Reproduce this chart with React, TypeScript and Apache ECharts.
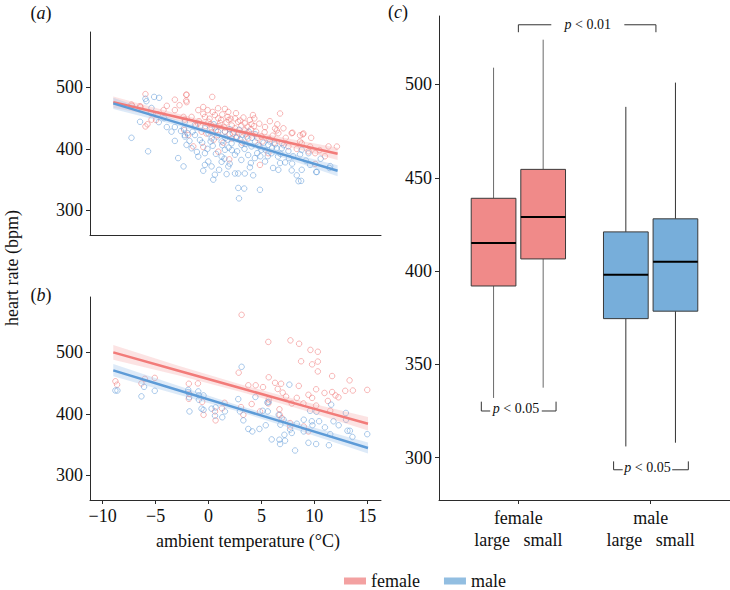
import React, { useEffect, useRef } from "react";
import * as echarts from "echarts";

const FONT = "'Liberation Serif', 'DejaVu Serif', 'Times New Roman', serif";

// ---------- Panel (a): [ambient temperature °C, heart rate bpm] ----------
const aFemale: number[][] = [
  [-5.96, 489], [-2.11, 488], [-3.18, 480], [-2.11, 478.5], [-3.94, 470], [-2.74, 471], [-7.23, 470], [-6.47, 469.5],
  [-4.25, 463], [-3.18, 463], [-5.45, 458], [-4.79, 456], [-5.39, 447.5], [-4.96, 447], [-5.77, 440], [-5.96, 436.5],
  [-2.36, 452], [-2.24, 447.5], [-2.3, 430.5], [-7.28, 472], [-6.43, 468],
  [-2.07, 488], [-2.07, 476], [0.35, 484.5], [-0.97, 463], [-0.5, 468], [-0.08, 463], [1.87, 460], [4.33, 449.5],
  [-1.6, 452], [-0.34, 452], [0.92, 449.5], [2.5, 449.5], [2.8, 444], [3.43, 441.5], [4.06, 440], [5.34, 435.5],
  [6.29, 433], [6.06, 421.5], [2.5, 433.5], [1.55, 428], [0.29, 433.5], [-0.65, 428], [0.92, 422.5], [2.18, 417],
  [3.75, 417], [4.7, 406.5], [-1.44, 404], [-0.5, 403], [0.92, 395.5], [1.96, 383], [4.86, 374], [5.65, 393],
  [3.43, 430], [-1.92, 422.5], [0.0, 444], [1.55, 465],
  [0.6, 455], [1.2, 447], [1.8, 452], [2.2, 438], [3.0, 446], [3.7, 436], [0.2, 440], [-0.9, 445], [1.0, 437],
  [2.9, 425], [4.5, 428], [5.0, 420], [3.2, 410], [1.4, 410], [0.5, 415], [-1.2, 437], [5.8, 445], [4.2, 455],
  [2.6, 458], [-0.2, 425],
  [0.4, 460], [0.9, 466], [1.3, 456], [1.7, 443], [2.1, 449], [2.4, 428], [3.3, 451], [3.9, 447], [4.8, 441],
  [5.3, 427], [5.7, 416], [6.5, 440], [-0.5, 457], [-1.0, 441], [0.1, 449], [0.7, 430], [1.1, 442], [1.5, 435],
  [2.0, 424], [2.7, 419], [3.5, 424], [4.0, 432], [4.6, 418], [5.1, 412], [6.2, 410], [0.3, 427], [-0.3, 437],
  [1.9, 447], [3.1, 438], [4.3, 437],
  [6.76, 457.5], [7.08, 433.5], [6.6, 425.5], [7.86, 425.5], [8.97, 425], [8.65, 422], [9.7, 418], [11.34, 404],
  [7.55, 404], [8.34, 400], [9.45, 396], [10.08, 375.5], [8.81, 409], [6.92, 409], [6.45, 430], [7.93, 426.3],
  [8.91, 423.6], [8.65, 411.8], [9.6, 403.8], [10.08, 393], [12.13, 403.8], [7.3, 418], [10.5, 398], [11.0, 388]
];
const aMale: number[][] = [
  [-5.96, 481.5], [-5.87, 477.5], [-5.14, 484.5], [-4.67, 483], [-5.39, 466.5], [-6.47, 444], [-4.7, 443.5],
  [-3.94, 435.5], [-3.18, 435.5], [-7.28, 418], [-5.71, 396], [-3.18, 413], [-2.08, 406.5], [-2.87, 385],
  [-2.36, 371.5], [-2.24, 422.5], [-1.99, 425.5], [-2.33, 433],
  [-2.23, 420], [-1.28, 422.5], [-0.81, 414.5], [-1.6, 401], [-0.34, 393], [-0.97, 387.5], [-0.02, 379.5],
  [-0.34, 374], [-0.5, 364.5], [0.29, 371.5], [1.24, 379], [0.6, 358], [0.45, 350], [1.71, 359], [2.5, 360],
  [2.81, 360], [3.43, 360], [3.91, 370], [4.22, 357], [2.81, 336.5], [3.37, 335.5], [4.86, 333.5], [2.88, 319.5],
  [-2.23, 444], [-1.28, 439], [-0.34, 433.5], [0.6, 435], [1.55, 428], [0.29, 417], [1.24, 412], [2.18, 409],
  [3.12, 406.5], [4.06, 404], [5.0, 398.5], [5.95, 393], [6.57, 387.5], [6.1, 369], [5.34, 379.5], [2.5, 390.5],
  [1.24, 387.5], [1.87, 371.5], [1.55, 398.5], [3.75, 390], [4.38, 385], [5.65, 406.5], [6.44, 401],
  [0.0, 425], [0.8, 420], [1.6, 418], [2.3, 425], [3.0, 415], [3.6, 420], [4.4, 412], [5.2, 410], [0.4, 405],
  [1.9, 402], [2.7, 396], [3.4, 400], [4.6, 393], [-0.6, 410], [-1.5, 428], [2.0, 432], [3.8, 428], [5.6, 388],
  [6.8, 392], [7.6, 385],
  [0.2, 412], [0.9, 428], [1.3, 406], [1.8, 415], [2.2, 398], [2.6, 418], [3.2, 423], [3.5, 408], [4.1, 418],
  [4.8, 404], [5.4, 398], [6.0, 402], [-0.1, 400], [0.7, 392], [1.0, 366], [1.5, 384], [2.0, 376], [3.1, 382],
  [4.0, 377], [4.9, 388], [-1.8, 413], [-1.1, 395], [0.5, 440], [2.9, 431], [4.4, 424], [5.8, 412], [-2.6, 429],
  [-4.2, 450], [-3.5, 428], [7.1, 406],
  [6.29, 407.5], [6.92, 401], [7.55, 396.5], [8.81, 398.5], [9.45, 393], [8.65, 391], [9.6, 374], [11.5, 372],
  [10.24, 362.5], [7.86, 365], [8.81, 366], [8.34, 357], [8.5, 347.5], [8.75, 348], [6.76, 377], [6.6, 366],
  [7.24, 378], [11.43, 369], [10.17, 362.4], [8.0, 388], [9.2, 381], [10.6, 384], [7.9, 376]
];

// ---------- Panel (b) ----------
const bFemale: number[][] = [
  [-8.8, 453], [-8.64, 447.5], [-6.34, 449.5], [-6.02, 457], [-5.08, 458.5], [-1.86, 449], [-1.0, 449.5],
  [-1.83, 432.5], [-1.86, 424.5], [-0.6, 419.5], [1.52, 418], [1.27, 409], [0.61, 404], [-0.47, 398.5], [0.67, 389.5],
  [3.13, 561], [5.65, 517], [7.74, 519.5], [8.56, 514], [9.63, 504], [10.33, 501], [8.75, 485.5], [9.79, 480.5],
  [10.33, 485], [10.33, 469], [2.85, 467], [5.69, 459.5], [11.68, 461.5], [13.33, 454.5], [3.76, 446.5], [4.46, 446.5],
  [5.15, 443.5], [6.29, 450.5], [6.86, 449], [6.54, 440.5], [7.01, 434.5], [8.53, 445.5], [10.17, 440], [10.96, 434],
  [11.68, 435.5], [12.28, 427], [12.92, 437.5], [13.64, 438], [15.0, 439], [9.44, 431], [9.79, 426], [7.33, 428],
  [7.87, 417], [8.34, 426], [8.97, 417], [11.28, 421], [10.17, 413.5], [11.5, 405], [5.69, 423.5], [5.65, 417],
  [4.87, 404], [4.08, 416], [3.07, 411], [3.29, 398.5], [6.7, 407.5], [6.73, 398.5], [7.71, 385], [6.92, 393],
  [9.44, 371.5], [7.71, 379.5], [9.0, 379.5], [12.0, 430]
];
const bMale: number[][] = [
  [-8.8, 438], [-8.61, 438], [-6.09, 444], [-5.08, 437.5], [-6.34, 428.5], [-1.92, 439], [-1.92, 435.5],
  [-0.97, 436.5], [-0.91, 430], [-0.47, 430], [-1.83, 427], [-0.91, 423], [-1.8, 404], [-0.66, 408.5],
  [-0.47, 406.5], [0.29, 408.5], [0.67, 410.5], [1.55, 404], [0.61, 397], [1.3, 394.5],
  [3.13, 476.5], [7.64, 447.5], [4.43, 427.5], [2.81, 424], [5.56, 418.5], [5.68, 419.5], [11.59, 415],
  [12.98, 401.5], [2.97, 404], [5.12, 405], [5.6, 404], [9.6, 405], [10.2, 403.5], [3.29, 389.5], [3.76, 375.5],
  [4.14, 371.5], [4.81, 375.5], [5.41, 381.5], [6.63, 398.5], [7.1, 390.5], [6.79, 382.5], [7.71, 374.5],
  [7.87, 369], [7.17, 366], [6.7, 358], [6.76, 351], [7.23, 356.5], [8.18, 340.5], [5.97, 358.5], [9.76, 388],
  [9.82, 381.5], [10.45, 388], [11.0, 378], [11.81, 388], [12.3, 381.5], [13.13, 372.5], [13.36, 372.5],
  [13.6, 362.5], [15.0, 367], [9.44, 353], [10.17, 351], [11.38, 349], [11.5, 367], [9.0, 371.5], [9.0, 390.5],
  [8.34, 384], [13.0, 390.5]
];

// ---------- Regression fits and confidence bands ----------
const aFitX = [-9, -4, 1.5, 7, 12.2];
const aFemaleFit = [476, 456, 434, 412.5, 392];
const aFemaleLo = [467, 450, 430, 406.5, 382];
const aFemaleHi = [485, 462, 438, 418.5, 402];
const aMaleFit = [474, 448, 419.5, 391, 364.5];
const aMaleLo = [465, 443, 416.5, 386, 355.5];
const aMaleHi = [483, 453, 422.5, 396, 373.5];

const bFitX = [-9, -3, 3, 9, 15.07];
const bFemaleFit = [500, 471, 442, 413, 384];
const bFemaleLo = [488, 463, 436, 406, 373];
const bFemaleHi = [512, 479, 448, 420, 395];
const bMaleFit = [470.7, 439.3, 407.8, 376.4, 344.5];
const bMaleLo = [461, 432, 403, 370, 335.5];
const bMaleHi = [481, 446.5, 413, 382.5, 353.5];

// ---------- Panel (c) box plots ----------
const boxSexes = ["female", "male"];
const boxSizes = ["large", "small"];
// order: female-large, female-small, male-large, male-small
const boxSex = [0, 0, 1, 1];
const boxSize = [0, 1, 0, 1];
const boxLow = [332, 337.5, 306, 308];
const boxQ1 = [392, 406.5, 374.5, 378.5];
const boxMedian = [415, 429, 398, 405];
const boxQ3 = [439, 454.5, 421, 428];
const boxHigh = [509, 524, 488, 501];

// significance annotations (panel c)
const sigLabels = ["p < 0.01", "p < 0.05", "p < 0.05"];
const sigX1 = [1.0, 0.72, 1.72];
const sigX2 = [2.04, 1.285, 2.285];
const sigTextX = [1.525, 0.982, 1.976];
const sigHalfGap = [0.276, 0.195, 0.187];
const sigY = [532, 325, 293.5];
const sigEndY = [528, 330, 298];

const RED_LINE = "#F27B79";
const BLUE_LINE = "#5D9BD7";
const RED_PT = "rgba(240,115,115,0.72)";
const BLUE_PT = "rgba(90,150,215,0.72)";
const RED_BAND = "rgba(245,155,155,0.28)";
const BLUE_BAND = "rgba(150,190,232,0.32)";
const RED_BOX = "#F08A89";
const BLUE_BOX = "#77AEDA";
const AXIS = "#2b2b2b";

const tickCfg = (vals: number[]) => ({
  show: true,
  customValues: vals,
  length: 4,
  lineStyle: { color: AXIS, width: 1 },
});
const labelCfg = (vals: number[], extra: any = {}) => ({
  show: true,
  customValues: vals,
  fontSize: 18,
  fontFamily: FONT,
  color: "#111",
  margin: 7,
  ...extra,
});
const lineCfg = { show: true, onZero: false, lineStyle: { color: AXIS, width: 1 } };
const minusFmt = (v: number) => (v < 0 ? "\u2212" + Math.abs(v) : String(v));

function scatter(name: string, idx: number, data: number[][], color: string) {
  return {
    name,
    type: "scatter",
    xAxisIndex: idx,
    yAxisIndex: idx,
    data,
    symbol: "circle",
    symbolSize: 5.5,
    z: 2,
    silent: true,
    itemStyle: { color: "rgba(0,0,0,0)", borderColor: color, borderWidth: 0.9 },
  };
}

function band(idx: number, xs: number[], lo: number[], hi: number[], color: string) {
  return {
    type: "custom",
    xAxisIndex: idx,
    yAxisIndex: idx,
    silent: true,
    z: 3,
    data: xs.map((x, i) => [x, lo[i], hi[i]]),
    renderItem: (params: any, api: any) => {
      if (params.dataIndex !== 0) return null;
      const top = xs.map((x, i) => api.coord([x, hi[i]]));
      const bot = xs.map((x, i) => api.coord([x, lo[i]])).reverse();
      return { type: "polygon", shape: { points: top.concat(bot) }, style: { fill: color } };
    },
  };
}

function fit(idx: number, xs: number[], ys: number[], color: string) {
  return {
    type: "line",
    xAxisIndex: idx,
    yAxisIndex: idx,
    data: xs.map((x, i) => [x, ys[i]]),
    symbol: "none",
    silent: true,
    z: 4,
    lineStyle: { color, width: 2.5 },
  };
}

const BOX_OFFSET = 0.1875;
const BOX_HALF = 0.169;

const boxSeries = {
  type: "custom",
  xAxisIndex: 2,
  yAxisIndex: 2,
  silent: true,
  z: 3,
  data: boxSex.map((s, i) => [s + 1, boxSize[i], boxLow[i], boxQ1[i], boxMedian[i], boxQ3[i], boxHigh[i]]),
  renderItem: (params: any, api: any) => {
    const i = params.dataIndex;
    const x = boxSex[i] + 1 + (boxSize[i] === 0 ? -BOX_OFFSET : BOX_OFFSET);
    const c = api.coord([x, boxMedian[i]]);
    const l = api.coord([x - BOX_HALF, boxMedian[i]])[0];
    const r = api.coord([x + BOX_HALF, boxMedian[i]])[0];
    const yLow = api.coord([x, boxLow[i]])[1];
    const yQ1 = api.coord([x, boxQ1[i]])[1];
    const yQ3 = api.coord([x, boxQ3[i]])[1];
    const yHigh = api.coord([x, boxHigh[i]])[1];
    const fill = boxSex[i] === 0 ? RED_BOX : BLUE_BOX;
    const whisker = boxSex[i] === 0 ? "#6a6a6a" : "#333";
    return {
      type: "group",
      children: [
        { type: "line", shape: { x1: c[0], y1: yHigh, x2: c[0], y2: yQ3 }, style: { stroke: whisker, lineWidth: 1 } },
        { type: "line", shape: { x1: c[0], y1: yQ1, x2: c[0], y2: yLow }, style: { stroke: whisker, lineWidth: 1 } },
        { type: "rect", shape: { x: l, y: yQ3, width: r - l, height: yQ1 - yQ3 }, style: { fill, stroke: "#3a3a3a", lineWidth: 1 } },
        { type: "line", shape: { x1: l, y1: c[1], x2: r, y2: c[1] }, style: { stroke: "#000", lineWidth: 2 } },
      ],
    };
  },
};

const sigSeries = {
  type: "custom",
  xAxisIndex: 2,
  yAxisIndex: 2,
  silent: true,
  z: 5,
  data: sigLabels.map((_, i) => [sigTextX[i], sigY[i]]),
  renderItem: (params: any, api: any) => {
    const i = params.dataIndex;
    const p1 = api.coord([sigX1[i], sigY[i]]);
    const p2 = api.coord([sigX2[i], sigY[i]]);
    const e1 = api.coord([sigX1[i], sigEndY[i]]);
    const g1 = api.coord([sigTextX[i] - sigHalfGap[i], sigY[i]]);
    const g2 = api.coord([sigTextX[i] + sigHalfGap[i], sigY[i]]);
    const t = api.coord([sigTextX[i], sigY[i]]);
    const st = { stroke: "#333", lineWidth: 1 };
    const dy = i === 0 ? 0 : -2.5;
    return {
      type: "group",
      children: [
        { type: "line", shape: { x1: p1[0], y1: e1[1], x2: p1[0], y2: p1[1] }, style: st },
        { type: "line", shape: { x1: p1[0], y1: p1[1], x2: g1[0], y2: p1[1] }, style: st },
        { type: "line", shape: { x1: g2[0], y1: p2[1], x2: p2[0], y2: p2[1] }, style: st },
        { type: "line", shape: { x1: p2[0], y1: p2[1], x2: p2[0], y2: e1[1] }, style: st },
        {
          type: "text",
          x: t[0],
          y: t[1] + dy,
          style: {
            text: "{i|p}" + sigLabels[i].slice(1),
            rich: { i: { fontStyle: "italic", fontSize: 14, fontFamily: FONT, fill: "#111" } },
            fontSize: 14,
            fontFamily: FONT,
            fill: "#111",
            align: "center",
            verticalAlign: "middle",
          },
        },
      ],
    };
  },
};

const panelLabel = (letter: string, x: number, y: number) => ({
  type: "text",
  x,
  y,
  style: {
    text: "({i|" + letter + "})",
    rich: { i: { fontStyle: "italic", fontSize: 18, fontFamily: FONT, fill: "#111" } },
    fontSize: 18,
    fontFamily: FONT,
    fill: "#111",
    align: "center",
    verticalAlign: "middle",
  },
});

const option: any = {
  animation: false,
  backgroundColor: "#fff",
  grid: [
    { left: 90, top: 32, width: 291, height: 203 },
    { left: 90, top: 297, width: 291, height: 203 },
    { left: 439, top: 16, width: 291, height: 484 },
  ],
  xAxis: [
    { type: "value", gridIndex: 0, min: -11.2, max: 16.3, axisLine: lineCfg, axisTick: { show: false }, axisLabel: { show: false }, splitLine: { show: false } },
    {
      type: "value", gridIndex: 1, min: -11.2, max: 16.3, axisLine: lineCfg,
      axisTick: tickCfg([-10, -5, 0, 5, 10, 15]),
      axisLabel: labelCfg([-10, -5, 0, 5, 10, 15], { formatter: minusFmt }),
      splitLine: { show: false },
    },
    {
      type: "value", gridIndex: 2, min: 0.4, max: 2.6, axisLine: lineCfg,
      axisTick: tickCfg([1, 2]),
      axisLabel: labelCfg([1, 2], {
        lineHeight: 22,
        formatter: (v: number) => boxSexes[Math.round(v) - 1] + "\n" + boxSizes[0] + "   " + boxSizes[1],
      }),
      splitLine: { show: false },
    },
  ],
  yAxis: [
    { type: "value", gridIndex: 0, min: 260, max: 590, axisLine: lineCfg, axisTick: tickCfg([300, 400, 500]), axisLabel: labelCfg([300, 400, 500]), splitLine: { show: false } },
    { type: "value", gridIndex: 1, min: 260, max: 590, axisLine: lineCfg, axisTick: tickCfg([300, 400, 500]), axisLabel: labelCfg([300, 400, 500]), splitLine: { show: false } },
    { type: "value", gridIndex: 2, min: 277.3, max: 536.7, axisLine: lineCfg, axisTick: tickCfg([300, 350, 400, 450, 500]), axisLabel: labelCfg([300, 350, 400, 450, 500]), splitLine: { show: false } },
  ],
  legend: {
    left: 339,
    top: 567,
    icon: "rect",
    itemWidth: 22,
    itemHeight: 7,
    itemGap: 24,
    selectedMode: false,
    textStyle: { fontSize: 18, fontFamily: FONT, color: "#111" },
    data: [
      { name: "female", itemStyle: { color: RED_BOX, borderWidth: 0 } },
      { name: "male", itemStyle: { color: BLUE_BOX, borderWidth: 0 } },
    ],
  },
  series: [
    scatter("female", 0, aFemale, RED_PT),
    scatter("male", 0, aMale, BLUE_PT),
    band(0, aFitX, aFemaleLo, aFemaleHi, RED_BAND),
    band(0, aFitX, aMaleLo, aMaleHi, BLUE_BAND),
    fit(0, aFitX, aFemaleFit, RED_LINE),
    fit(0, aFitX, aMaleFit, BLUE_LINE),
    scatter("female", 1, bFemale, RED_PT),
    scatter("male", 1, bMale, BLUE_PT),
    band(1, bFitX, bFemaleLo, bFemaleHi, RED_BAND),
    band(1, bFitX, bMaleLo, bMaleHi, BLUE_BAND),
    fit(1, bFitX, bFemaleFit, RED_LINE),
    fit(1, bFitX, bMaleFit, BLUE_LINE),
    boxSeries,
    sigSeries,
  ],
  graphic: [
    panelLabel("a", 41, 13),
    panelLabel("b", 41, 295),
    panelLabel("c", 398, 12),
    {
      type: "text",
      x: 12,
      y: 268,
      rotation: Math.PI / 2,
      style: { text: "heart rate (bpm)", fontSize: 18, fontFamily: FONT, fill: "#111", align: "center", verticalAlign: "middle" },
    },
    {
      type: "text",
      x: 248,
      y: 541,
      style: { text: "ambient temperature (\u00B0C)", fontSize: 18, fontFamily: FONT, fill: "#111", align: "center", verticalAlign: "middle" },
    },
  ],
};

export default function App() {
  const ref = useRef<HTMLDivElement>(null);
  useEffect(() => {
    const chart = echarts.init(ref.current as HTMLDivElement, null, { renderer: "svg" });
    chart.setOption(option);
    return () => chart.dispose();
  }, []);
  return (
    <div
      ref={ref}
      style={{ position: "fixed", left: 0, top: 0, width: 730, height: 590, background: "#fff" }}
    />
  );
}
